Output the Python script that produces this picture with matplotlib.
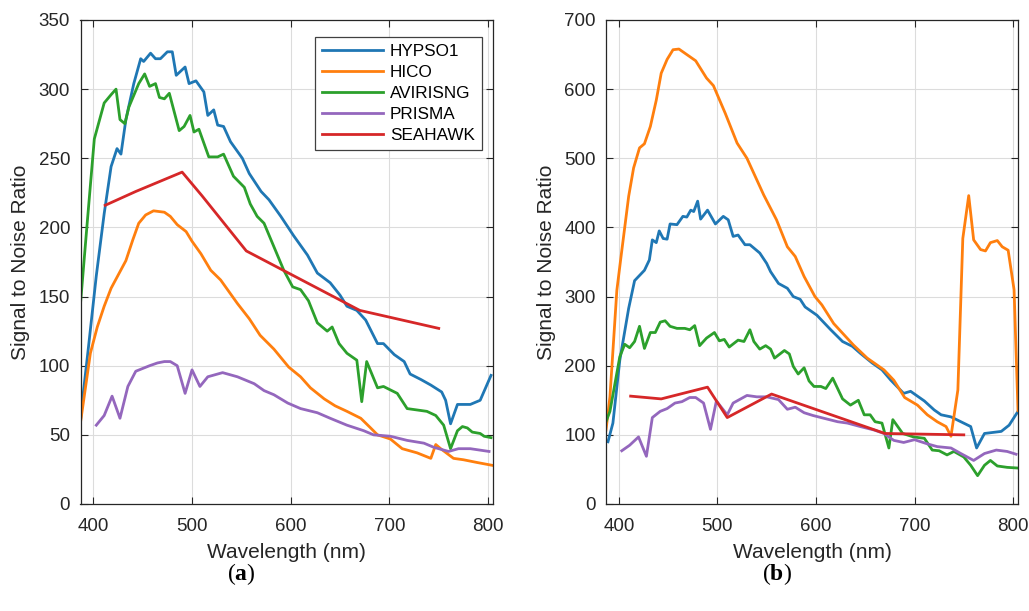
import matplotlib
matplotlib.use("Agg")
import matplotlib.pyplot as plt

plt.rcParams['font.family'] = ['Liberation Sans', 'DejaVu Sans']
plt.rcParams['mathtext.fontset'] = 'custom'
plt.rcParams['mathtext.rm'] = 'Liberation Serif'
plt.rcParams['mathtext.bf'] = 'Liberation Serif:bold'

series_names = ["HYPSO1", "HICO", "AVIRISNG", "PRISMA", "SEAHAWK"]
series_colors = ["#1f77b4", "#ff7f0e", "#2ca02c", "#9467bd", "#d62728"]

# ---------------- panel (a) ----------------
wl_hypso_a = [387, 389, 395, 403, 411, 418, 424, 428, 433, 441, 448, 451, 458, 463, 468, 475, 480, 484,
              493, 497, 504, 512, 516, 522, 526, 532, 539, 551, 558, 570, 578, 590, 603, 617, 627, 640,
              650, 657, 667, 676, 688, 694, 705, 715, 721, 732, 742, 753, 757, 762, 769, 782, 792, 803]
snr_hypso_a = [60, 75, 113, 165, 210, 244, 257, 253, 278, 304, 322, 320, 326, 322, 322, 327, 327, 310,
               316, 304, 306, 298, 281, 285, 274, 273, 262, 250, 239, 226, 220, 208, 194, 180, 167, 160,
               151, 143, 140, 133, 116, 116, 108, 103, 94, 90, 86, 81, 75, 58, 72, 72, 75, 93]

wl_hico_a = [387, 397, 404, 411, 418, 424, 433, 440, 446, 453, 461, 472, 478, 485, 494, 500, 509, 519,
             529, 536, 546, 558, 569, 583, 598, 610, 620, 634, 645, 657, 671, 681, 688, 701, 713, 728,
             742, 747, 752, 765, 775, 789, 804]
snr_hico_a = [59, 109, 128, 143, 156, 164, 176, 191, 203, 209, 212, 211, 208, 202, 197, 190, 181, 169,
              162, 155, 145, 134, 122, 112, 99, 92, 84, 76, 71, 67, 62, 55, 50, 47, 40, 37,
              33, 43, 40, 33, 32, 30, 28]

wl_aviris_a = [387, 394, 401, 411, 418, 423, 427, 432, 436, 446, 452, 457, 463, 467, 472, 477, 487, 492,
               498, 502, 507, 517, 526, 532, 542, 553, 559, 566, 573, 583, 593, 602, 610, 618, 627, 637,
               642, 649, 657, 667, 672, 677, 688, 694, 708, 718, 728, 738, 747, 755, 762, 769, 774, 779,
               784, 792, 796, 803]
snr_aviris_a = [145, 205, 264, 290, 296, 300, 278, 275, 287, 304, 311, 302, 304, 294, 293, 297, 270, 273,
                281, 269, 271, 251, 251, 253, 237, 229, 217, 208, 203, 186, 169, 157, 155, 147, 131, 125,
                128, 116, 109, 104, 74, 103, 84, 85, 80, 69, 68, 67, 64, 57, 40, 53, 56, 55,
                52, 51, 49, 48]

wl_prisma_a = [403, 411, 419, 427, 435, 443, 457, 465, 472, 478, 485, 493, 500, 508, 516, 531, 546, 563,
               573, 583, 597, 610, 627, 640, 657, 674, 684, 701, 718, 735, 745, 760, 770, 782, 801]
snr_prisma_a = [57, 64, 78, 62, 85, 96, 100, 102, 103, 103, 100, 80, 97, 85, 92, 95, 92, 87,
                82, 79, 73, 69, 66, 62, 57, 53, 50, 49, 46, 44, 41, 38, 40, 40, 38]

wl_seahawk_a = [412, 443, 490, 510, 555, 670, 750]
snr_seahawk_a = [216, 226, 240, 223, 183, 140, 127]

# ---------------- panel (b) ----------------
wl_hypso_b = [389, 394, 401, 410, 416, 426, 431, 434, 438, 441, 445, 449, 452, 459, 465, 469, 473, 476,
              480, 483, 490, 498, 506, 511, 516, 521, 528, 533, 543, 550, 554, 562, 571, 577, 584, 589,
              601, 615, 627, 637, 645, 657, 667, 676, 689, 696, 710, 720, 727, 737, 747, 757, 763, 771,
              788, 796, 805]
snr_hypso_b = [90, 117, 208, 283, 323, 338, 353, 382, 378, 395, 384, 383, 405, 404, 416, 415, 425, 423,
               438, 412, 425, 405, 416, 411, 387, 389, 375, 375, 363, 348, 336, 319, 312, 300, 296, 285,
               273, 252, 235, 228, 218, 204, 194, 179, 160, 163, 149, 136, 129, 126, 119, 112, 81, 102,
               105, 114, 134]

wl_hico_b = [387, 391, 398, 402, 410, 415, 421, 426, 432, 438, 443, 449, 455, 461, 467, 478, 489, 496,
             508, 520, 530, 547, 560, 571, 579, 588, 599, 606, 618, 638, 652, 669, 679, 690, 703, 713,
             723, 732, 737, 744, 749, 755, 760, 767, 772, 777, 784, 789, 795, 801, 805]
snr_hico_b = [107, 155, 309, 355, 445, 486, 515, 521, 546, 584, 623, 643, 657, 658, 652, 641, 616, 605,
              565, 522, 500, 447, 411, 372, 358, 329, 300, 288, 261, 230, 211, 194, 179, 154, 143, 129,
              119, 112, 98, 165, 384, 446, 382, 368, 366, 378, 381, 372, 367, 310, 135]

wl_aviris_b = [387, 391, 401, 406, 411, 416, 421, 426, 432, 437, 442, 447, 452, 459, 467, 472, 477, 482,
               489, 497, 502, 507, 512, 521, 527, 533, 537, 543, 549, 554, 558, 568, 573, 577, 582, 588,
               593, 598, 605, 610, 617, 627, 635, 643, 649, 655, 660, 667, 674, 678, 688, 699, 710, 718,
               725, 733, 740, 750, 757, 764, 771, 777, 784, 794, 805]
snr_aviris_b = [119, 134, 213, 231, 226, 235, 257, 225, 248, 248, 263, 265, 257, 254, 254, 252, 258, 229,
                240, 248, 236, 238, 227, 237, 235, 252, 235, 224, 229, 224, 211, 222, 217, 199, 188, 197,
                178, 170, 170, 167, 182, 152, 143, 150, 129, 129, 119, 117, 81, 122, 102, 97, 95, 78,
                77, 71, 76, 68, 56, 41, 56, 63, 55, 53, 52]

wl_prisma_b = [403, 411, 420, 428, 434, 442, 449, 457, 464, 472, 478, 486, 493, 499, 510, 516, 530, 540,
               550, 562, 571, 579, 588, 597, 608, 622, 632, 645, 659, 669, 679, 689, 700, 713, 723, 737,
               747, 760, 771, 783, 794, 803]
snr_prisma_b = [77, 85, 97, 69, 125, 134, 138, 146, 148, 154, 154, 146, 108, 149, 129, 146, 157, 155,
                155, 151, 137, 140, 132, 128, 124, 119, 117, 112, 107, 102, 92, 89, 93, 87, 83, 81,
                73, 63, 73, 78, 76, 72]

wl_seahawk_b = [412, 443, 490, 510, 555, 670, 750]
snr_seahawk_b = [156, 152, 169, 125, 159, 102, 100]

x_ticks = [400, 500, 600, 700, 800]
y_ticks_a = [0, 50, 100, 150, 200, 250, 300, 350]
y_ticks_b = [0, 100, 200, 300, 400, 500, 600, 700]

panel_a = [(wl_hypso_a, snr_hypso_a), (wl_hico_a, snr_hico_a), (wl_aviris_a, snr_aviris_a),
           (wl_prisma_a, snr_prisma_a), (wl_seahawk_a, snr_seahawk_a)]
panel_b = [(wl_hypso_b, snr_hypso_b), (wl_hico_b, snr_hico_b), (wl_aviris_b, snr_aviris_b),
           (wl_prisma_b, snr_prisma_b), (wl_seahawk_b, snr_seahawk_b)]

fig = plt.figure(figsize=(10.29, 6.11), dpi=100)
W, H = 1029, 611
ax_a = fig.add_axes([80.5 / W, 1 - 504 / H, (493 - 80.5) / W, 484 / H])
ax_b = fig.add_axes([606 / W, 1 - 504 / H, (1018 - 606) / W, 484 / H])

spine_col = "#262626"
for ax, data, yt in [(ax_a, panel_a, y_ticks_a), (ax_b, panel_b, y_ticks_b)]:
    for (x, y), name, c in zip(data, series_names, series_colors):
        ax.plot(x, y, color=c, lw=2.0, label=name, solid_joinstyle='round')
    ax.set_xlim(387, 805)
    ax.set_ylim(yt[0], yt[-1])
    ax.set_xticks(x_ticks)
    ax.set_yticks(yt)
    ax.grid(True, color="#dcdcdc", lw=0.8)
    ax.set_axisbelow(True)
    ax.tick_params(direction='in', length=5, width=0.8, top=True, right=True,
                   labelsize=13.5, colors=spine_col)
    ax.tick_params(axis='x', pad=10)
    ax.tick_params(axis='y', pad=7.5)
    for s in ax.spines.values():
        s.set_color(spine_col)
        s.set_linewidth(0.9)
    ax.set_xlabel("Wavelength (nm)", fontsize=15, color=spine_col, labelpad=6)
    ax.set_ylabel("Signal to Noise Ratio", fontsize=15, color=spine_col, labelpad=6)

leg = ax_a.legend(loc='upper right', bbox_to_anchor=((481.7 - 80.5) / 412.5, (504 - 36.7) / 484),
                  borderaxespad=0, fontsize=12.3, handlelength=3.6, handletextpad=0.4,
                  labelspacing=0.36, fancybox=False, framealpha=1, edgecolor="#404040",
                  borderpad=0.4)
leg.get_frame().set_linewidth(0.9)

fig.text(241 / W, 1 - 574 / H, r"$(\mathbf{a})$", ha='center', va='center', fontsize=17)
fig.text(777 / W, 1 - 574 / H, r"$(\mathbf{b})$", ha='center', va='center', fontsize=17)

fig.savefig("out.png", dpi=100)
